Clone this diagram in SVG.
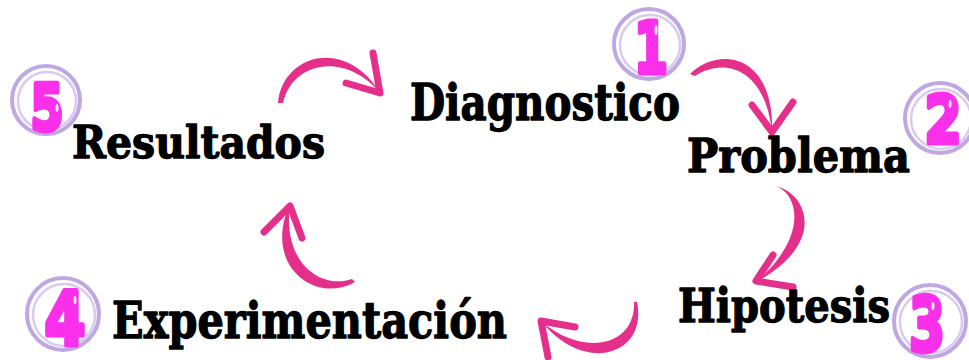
<svg xmlns="http://www.w3.org/2000/svg" width="969" height="360" viewBox="0 0 969 360">
<style>
.lbl{font-family:"DejaVu Serif","Liberation Serif",serif;font-weight:bold;fill:#000;stroke:#000;stroke-width:1.3;stroke-linejoin:round}
.num{font-family:"DejaVu Sans","Liberation Sans",sans-serif;font-weight:bold;fill:#F92FEA;stroke:#F92FEA;stroke-width:5;stroke-linejoin:round;text-anchor:middle}
.ring{fill:none;stroke:#BFA7E2;stroke-width:4}
.ring2{fill:none;stroke:#D8CAF0;stroke-width:2.5}
.shaft{fill:#E5308B}
.head{fill:none;stroke:#E5308B;stroke-width:7;stroke-linecap:round;stroke-linejoin:round}
.gloss{fill:#fff;opacity:0.9}
</style>
<rect width="969" height="360" fill="#fff"/>
<g id="connectors">
  <g id="arrow-5-1">
    <path class="shaft" d="M278 103 C282 55 345 35 381 94 C345 50 292 62 283 103 Z"/>
    <path class="head" d="M373 53 L380 93 L346 83"/>
  </g>
  <g id="arrow-1-2">
    <path class="shaft" d="M690 74 C720 45 775 55 772 133 C766 70 726 56 695 76 Z"/>
    <path class="head" d="M752 105 L772 132 L793 102"/>
  </g>
  <g id="arrow-2-3">
    <path class="shaft" d="M776 186 C810 195 825 245 756 282 C805 240 800 200 780 188 Z"/>
    <path class="head" d="M773 255 L756 281 L793 287"/>
  </g>
  <g id="arrow-3-4">
    <path class="shaft" d="M637 302 C648 355 585 375 542 322 C585 358 636 345 634 302 Z"/>
    <path class="head" d="M575 327 L541 321 L548 357"/>
  </g>
  <g id="arrow-4-5">
    <path class="shaft" d="M355 282 C315 305 262 265 290 204 C282 262 320 290 352 279 Z"/>
    <path class="head" d="M264 232 L290 206 L302 238"/>
  </g>
</g>
<g id="node-1">
  <text class="lbl" x="410" y="120" font-size="50" textLength="270" lengthAdjust="spacingAndGlyphs">Diagnostico</text>
  <circle class="ring" cx="649" cy="44" r="35"/>
  <circle class="ring2" cx="650" cy="45" r="30"/>
  <text class="num" x="651" y="73" font-size="72" textLength="34" lengthAdjust="spacingAndGlyphs">1</text>
  <ellipse class="gloss" cx="656" cy="30" rx="1.5" ry="5"/>
</g>
<g id="node-2">
  <text class="lbl" x="687" y="172" font-size="46" textLength="223" lengthAdjust="spacingAndGlyphs">Problema</text>
  <circle class="ring" cx="940" cy="118" r="35"/>
  <circle class="ring2" cx="941" cy="119" r="30"/>
  <text class="num" x="943" y="143" font-size="66" textLength="37" lengthAdjust="spacingAndGlyphs">2</text>
  <ellipse class="gloss" cx="950" cy="104" rx="1.5" ry="4"/>
</g>
<g id="node-3">
  <text class="lbl" x="678" y="322" font-size="47" textLength="212" lengthAdjust="spacingAndGlyphs">Hipotesis</text>
  <circle class="ring" cx="930" cy="321" r="36"/>
  <circle class="ring2" cx="931" cy="322" r="31"/>
  <text class="num" x="927" y="351" font-size="74" textLength="36" lengthAdjust="spacingAndGlyphs">3</text>
  <ellipse class="gloss" cx="933" cy="306" rx="1.5" ry="4"/>
</g>
<g id="node-4">
  <text class="lbl" x="112" y="338" font-size="50" textLength="395" lengthAdjust="spacingAndGlyphs">Experimentación</text>
  <circle class="ring" cx="63" cy="314" r="36"/>
  <circle class="ring2" cx="64" cy="315" r="31"/>
  <text class="num" x="65" y="345" font-size="74" textLength="41" lengthAdjust="spacingAndGlyphs">4</text>
  <ellipse class="gloss" cx="75" cy="300" rx="1.5" ry="4"/>
</g>
<g id="node-5">
  <text class="lbl" x="72" y="158" font-size="45" textLength="253" lengthAdjust="spacingAndGlyphs">Resultados</text>
  <circle class="ring" cx="46" cy="100" r="34"/>
  <circle class="ring2" cx="47" cy="101" r="29"/>
  <text class="num" x="47" y="130" font-size="64" textLength="33" lengthAdjust="spacingAndGlyphs">5</text>
  <ellipse class="gloss" cx="57" cy="108" rx="1.5" ry="4"/>
</g>
</svg>
